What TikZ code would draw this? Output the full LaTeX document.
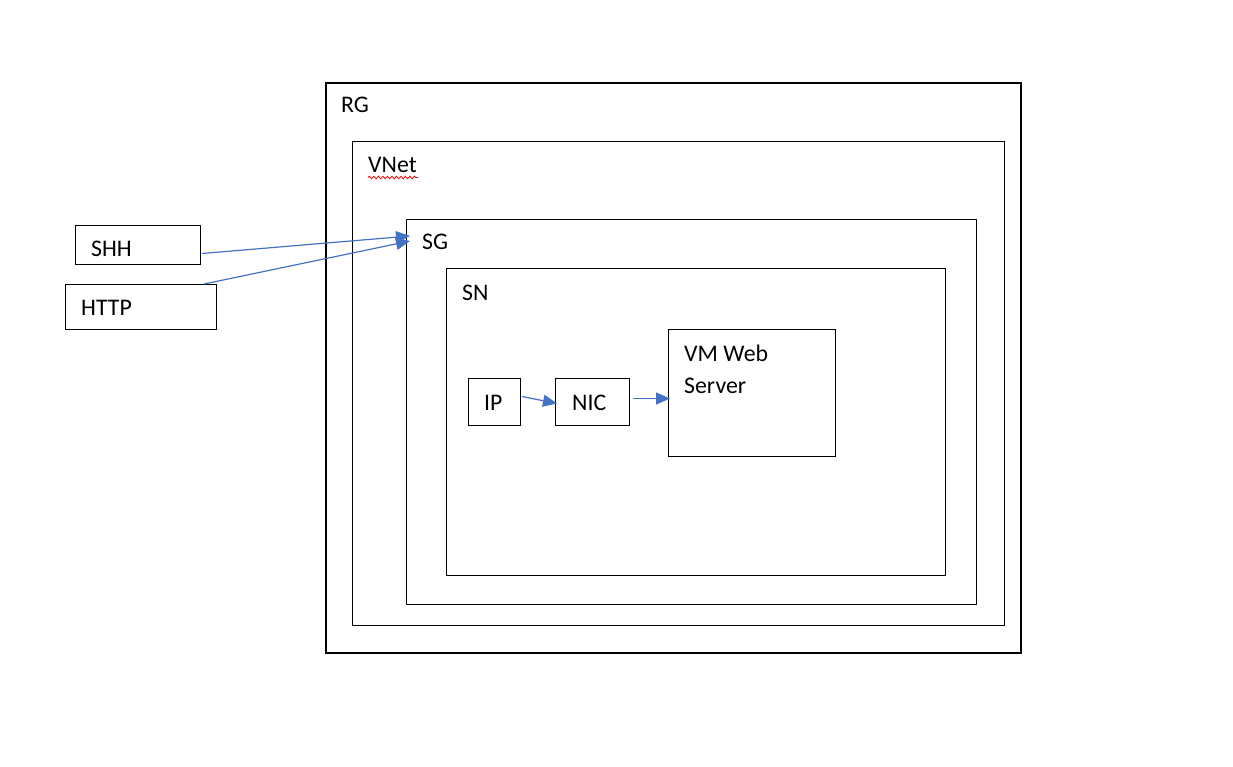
\documentclass[tikz,border=0pt]{standalone}
\usepackage{fontspec}
\setmainfont{Carlito}
\usepackage{tikz}
\usetikzlibrary{arrows.meta,decorations.pathmorphing}
\definecolor{linkblue}{RGB}{68,114,196}

\begin{document}
\begin{tikzpicture}[x=1pt,y=-1pt,
  box/.style={draw=black,line width=1pt,rectangle,anchor=north west,inner sep=0pt},
  lbl/.style={inner sep=0pt,anchor=base west,font=\fontsize{23.8}{28}\selectfont},
  link/.style={draw=linkblue,line width=1.2pt,-{Triangle[length=14pt,width=12pt]}}]
\useasboundingbox (0,0) rectangle (1233,767);
% nested boxes
\node[box,line width=2pt,minimum width=695,minimum height=570] (rg) at (325,82) {};
\node[box,minimum width=652,minimum height=484] (vnet) at (352,141) {};
\node[box,minimum width=570,minimum height=385] (sg) at (406,219) {};
\node[box,minimum width=499,minimum height=307] (sn) at (446,268) {};
\node[box,minimum width=167,minimum height=127] (vm) at (668,329) {};
\node[box,minimum width=52,minimum height=47] (ip) at (468,378) {};
\node[box,minimum width=74,minimum height=47] (nic) at (555,378) {};
\node[box,minimum width=125,minimum height=39] (shh) at (75,225) {};
\node[box,minimum width=151,minimum height=45] (http) at (65,284) {};
% labels
\node[lbl] (rgtext) at (341,113) {RG};
\node[lbl] (vnettext) at (368,173) {VNet};
\node[lbl] (sgtext) at (422,250) {SG};
\node[lbl] (sntext) at (462,300) {SN};
\node[lbl] (vmtext) at (684,361) {VM Web};
\node[lbl] (vmtext2) at (684,393) {Server};
\node[lbl] (iptext) at (484,410) {IP};
\node[lbl] (nictext) at (572,410) {NIC};
\node[lbl] (shhtext) at (91,256) {SHH};
\node[lbl] (httptext) at (81,315) {HTTP};
\draw[red,line width=0.8pt,decorate,decoration={snake,amplitude=1.3pt,segment length=4.5pt}]
  (vnettext.base west) ++(0,4.5) -- ++(50,0);
% connectors
\coordinate (sgin1) at ([shift={(4,17)}]sg.north west);
\coordinate (sgin2) at ([shift={(4,22)}]sg.north west);
\draw[link] ([shift={(1,8.5)}]shh.east) -- (sgin1);
\draw[link] ([shift={(-13,0)}]http.north east) -- (sgin2);
\draw[link] ([shift={(1,-5.5)}]ip.east) -- ([shift={(2,1.5)}]nic.west);
\draw[link] ([shift={(3,-3.5)}]nic.east) -- ([shift={(2,5.5)}]vm.west);
\end{tikzpicture}
\end{document}
